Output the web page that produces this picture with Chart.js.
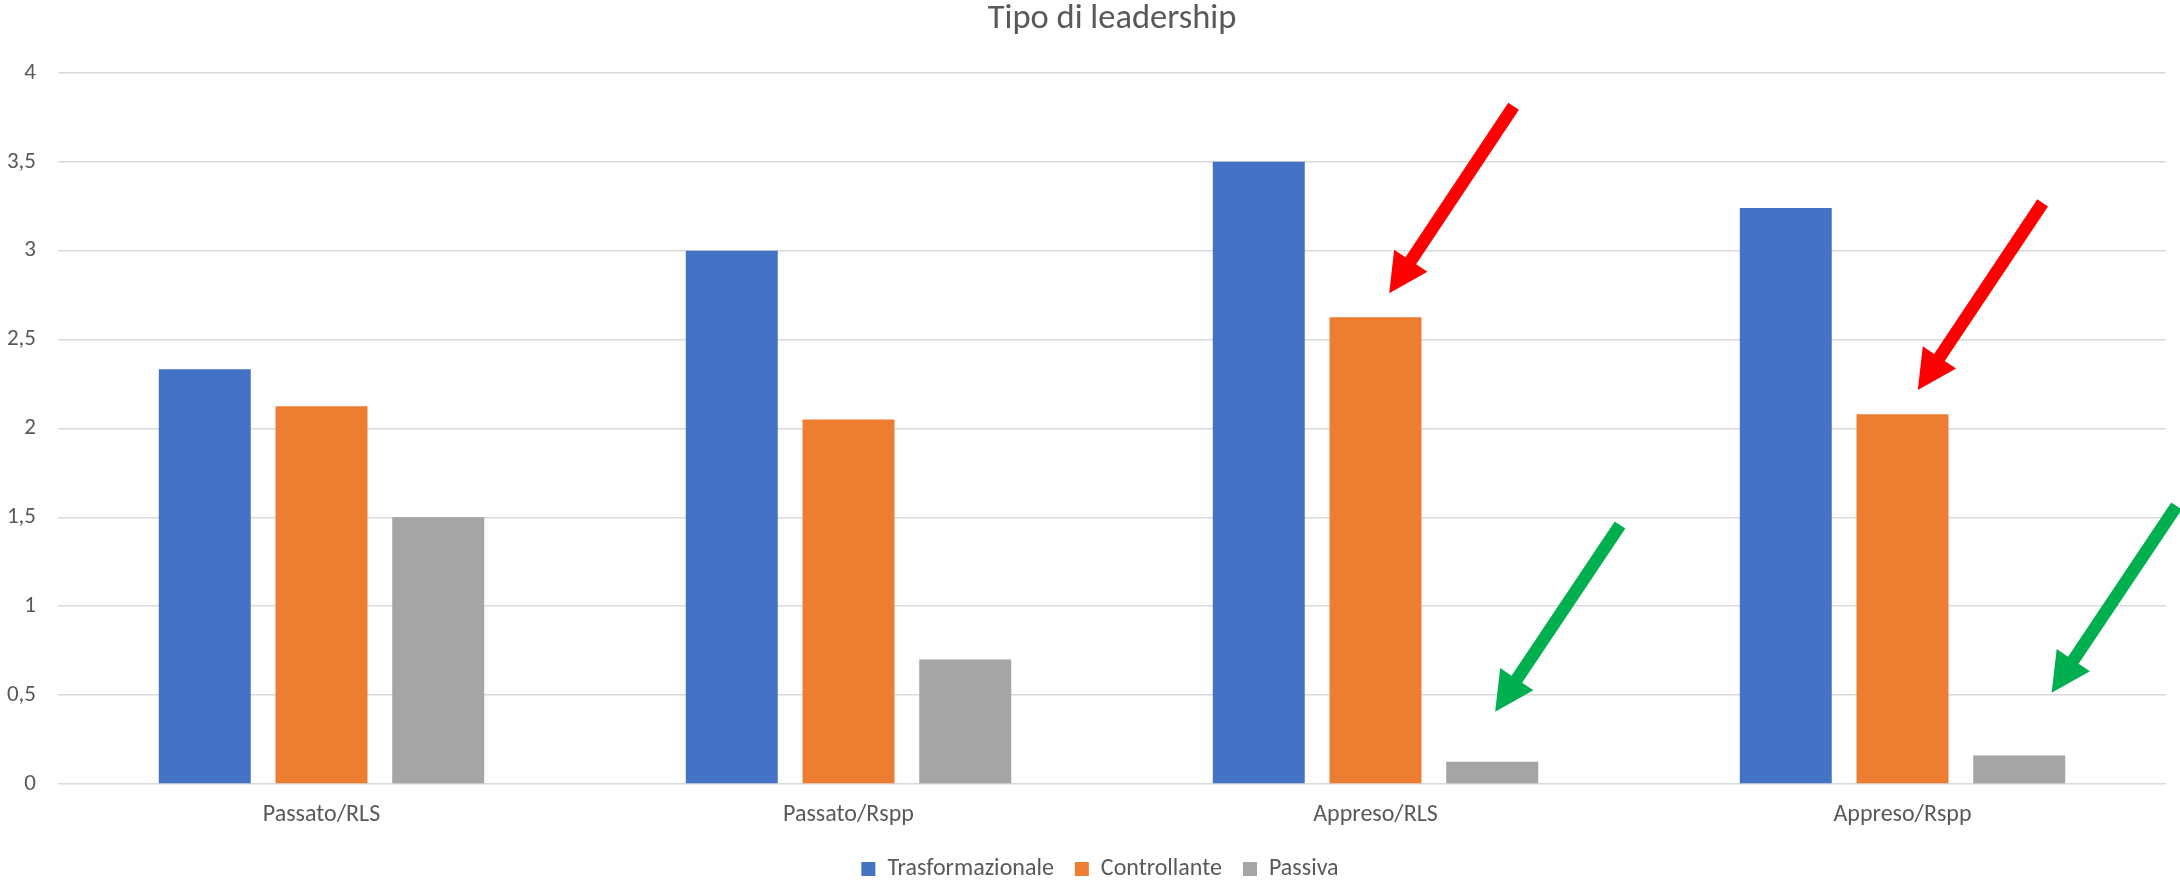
<!DOCTYPE html>
<html><head><meta charset="utf-8">
<script src="https://cdn.jsdelivr.net/npm/chart.js@4.4.1/dist/chart.umd.min.js"></script>
<style>html,body{margin:0;padding:0;background:#fff}#wrap{width:2180px;height:886px}</style>
</head><body><div id="wrap"><canvas id="c" width="2180" height="886"></canvas></div>
<script>
const categories = ['Passato/RLS', 'Passato/Rspp', 'Appreso/RLS', 'Appreso/Rspp'];
const seriesNames = ['Trasformazionale', 'Controllante', 'Passiva'];
const trasformazionale = [2.333, 3.0, 3.5, 3.24];
const controllante = [2.125, 2.05, 2.625, 2.08];
const passiva = [1.5, 0.7, 0.125, 0.16];
const yTickLabels = ['0', '0,5', '1', '1,5', '2', '2,5', '3', '3,5', '4'];
const chartTitle = 'Tipo di leadership';
// annotation arrows, anchored in data space: [category index, value]
const arrowFrom = [[2.262, 3.813], [3.266, 3.269], [2.464, 1.457], [3.520, 1.564]];
const arrowTo = [[2.026, 2.761], [3.029, 2.217], [2.227, 0.407], [3.283, 0.514]];
const arrowColors = ['#FF0000', '#FF0000', '#00B050', '#00B050'];

const FONT = 'Carlito, Calibri, Lato, sans-serif';
const TEXT = '#595959';

const arrowPlugin = {
  id: 'arrows',
  afterLayout(chart) {
    // nudge the legend row to the right to match the reference centring
    if (chart.legend) { chart.legend.left += 17; chart.legend.right += 17; }
  },
  afterDatasetsDraw(chart) {
    const {ctx, scales: {x, y}} = chart;
    ctx.save();
    arrowFrom.forEach((f, i) => {
      const t = arrowTo[i];
      const x1 = x.getPixelForValue(f[0]), y1 = y.getPixelForValue(f[1]);
      const x2 = x.getPixelForValue(t[0]), y2 = y.getPixelForValue(t[1]);
      const dx = x2 - x1, dy = y2 - y1, L = Math.hypot(dx, dy);
      const ux = dx / L, uy = dy / L, px = -uy, py = ux;
      const hl = 39, hw = 20, sw = 6.4;
      const bx = x2 - ux * hl, by = y2 - uy * hl;
      ctx.beginPath();
      ctx.moveTo(x1 + px * sw, y1 + py * sw);
      ctx.lineTo(bx + px * sw, by + py * sw);
      ctx.lineTo(bx + px * hw, by + py * hw);
      ctx.lineTo(x2, y2);
      ctx.lineTo(bx - px * hw, by - py * hw);
      ctx.lineTo(bx - px * sw, by - py * sw);
      ctx.lineTo(x1 - px * sw, y1 - py * sw);
      ctx.closePath();
      ctx.fillStyle = arrowColors[i];
      ctx.fill();
    });
    ctx.restore();
  }
};

new Chart(document.getElementById('c'), {
  type: 'bar',
  data: {
    labels: categories,
    datasets: [
      {label: seriesNames[0], data: trasformazionale, backgroundColor: '#4472C4'},
      {label: seriesNames[1], data: controllante, backgroundColor: '#ED7D31'},
      {label: seriesNames[2], data: passiva, backgroundColor: '#A5A5A5'}
    ]
  },
  options: {
    responsive: false,
    animation: false,
    devicePixelRatio: 1,
    layout: {padding: {left: 0, right: 14, top: 0, bottom: -5}},
    datasets: {bar: {categoryPercentage: 0.6645, barPercentage: 0.788}},
    plugins: {
      title: {display: true, fullSize: false, text: chartTitle, color: TEXT,
        font: {family: FONT, size: 34.5, weight: 'normal', lineHeight: 1.1},
        padding: {top: 0, bottom: 35}},
      legend: {position: 'bottom',
        labels: {boxWidth: 14, boxHeight: 14, color: TEXT, font: {family: FONT, size: 24}, padding: 21}},
      tooltip: {enabled: false}
    },
    scales: {
      x: {
        grid: {display: false, drawTicks: false},
        border: {display: false},
        ticks: {color: TEXT, font: {family: FONT, size: 24}, padding: 17},
        afterFit(s) { s.height = 52; }
      },
      y: {
        min: 0, max: 4,
        ticks: {stepSize: 0.5, color: TEXT, font: {family: FONT, size: 23}, padding: 22,
          callback: (v, i) => yTickLabels[i]},
        grid: {color: '#D9D9D9', lineWidth: 1.5, drawTicks: false},
        border: {display: false},
        afterFit(s) { s.width = 58; }
      }
    }
  },
  plugins: [arrowPlugin]
});
</script></body></html>
